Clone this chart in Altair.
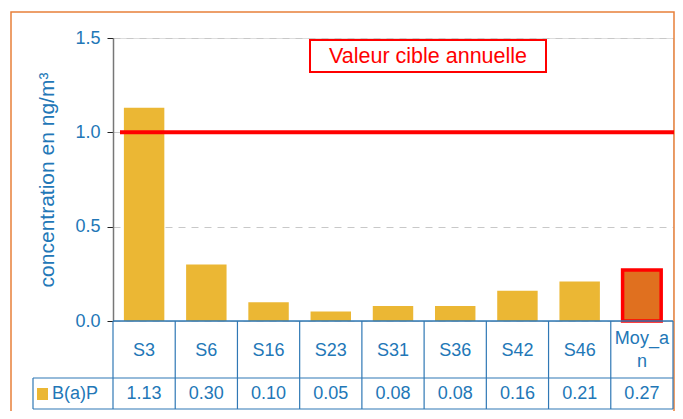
import altair as alt
import pandas as pd

categories = ["S3", "S6", "S16", "S23", "S31", "S36", "S42", "S46", "Moy_an"]
values = [1.13, 0.30, 0.10, 0.05, 0.08, 0.08, 0.16, 0.21, 0.27]
value_labels = ["1.13", "0.30", "0.10", "0.05", "0.08", "0.08", "0.16", "0.21", "0.27"]
cat_line1 = ["S3", "S6", "S16", "S23", "S31", "S36", "S42", "S46", "Moy_a"]
cat_line2 = ["", "", "", "", "", "", "", "", "n"]
series_name = "B(a)P"
target_value = [1.0]
annotation = ["Valeur cible annuelle"]
y_ticks = [0.0, 0.5, 1.0, 1.5]

BLUE = "#2277b7"
LINE = "#2f78b5"
GOLD = "#ebb734"
ORANGE = "#e0701f"
FONT = "Liberation Sans"

W, H = 560, 283

df = pd.DataFrame({"cat": categories, "val": values, "lab": value_labels,
                   "l1": cat_line1, "l2": cat_line2})
df["kind"] = ["site"] * 8 + ["moy"]

xscale = alt.Scale(domain=categories, paddingInner=0, paddingOuter=0)
X = alt.X("cat:N", scale=xscale, axis=None, sort=categories)
Y = alt.Y("val:Q", scale=alt.Scale(domain=[0, 1.5], nice=False),
          axis=alt.Axis(values=y_ticks, format=".1f", title="concentration en ng/m³",
                        titleColor=BLUE, titleFontSize=21, titleFont=FONT,
                        titleFontWeight="normal", titlePadding=17,
                        labelColor=BLUE, labelFontSize=18, labelFont=FONT,
                        labelPadding=7, tickSize=6, tickColor="#222",
                        domainColor="#777", domainWidth=1.5,
                        grid=True, gridDash=[7, 6], gridColor="#c8c8c8"))

base = alt.Chart(df)

bars = base.transform_filter("datum.kind == 'site'").mark_bar(
    width={"band": 0.65}, color=GOLD).encode(x=X, y=Y)
moy = base.transform_filter("datum.kind == 'moy'").mark_bar(
    width={"band": 0.62}, color=ORANGE, stroke="#ff0000", strokeWidth=3.5).encode(x=X, y="val:Q")

tdf = pd.DataFrame({"t": target_value})
target = alt.Chart(tdf).mark_rule(color="#ff0000", strokeWidth=4).encode(
    y=alt.Y("t:Q"), x=alt.value(7), x2=alt.value(561))

adf = pd.DataFrame({"a": annotation})
abox = alt.Chart(adf).mark_rect(fill="white", stroke="#ff0000", strokeWidth=2).encode(
    x=alt.value(197), x2=alt.value(433), y=alt.value(2), y2=alt.value(34))
atext = alt.Chart(adf).mark_text(color="#ff0000", fontSize=21.5, font=FONT,
                                 align="center", baseline="middle").encode(
    text="a:N", x=alt.value(315), y=alt.value(19))

# table
BOT = H + 88
vlines = base.mark_rule(color=LINE, strokeWidth=1.2).encode(
    x=alt.X("cat:N", scale=xscale, sort=categories, bandPosition=0),
    y=alt.value(H), y2=alt.value(BOT))
rdf = pd.DataFrame({"r": [0]})
right_line = alt.Chart(rdf).mark_rule(color=LINE, strokeWidth=1.2).encode(
    x=alt.value(W), y=alt.value(H), y2=alt.value(BOT))
left_line = alt.Chart(rdf).mark_rule(color=LINE, strokeWidth=1.2).encode(
    x=alt.value(-80), y=alt.value(H + 57), y2=alt.value(BOT))
h0 = alt.Chart(rdf).mark_rule(color=LINE, strokeWidth=1.5).encode(
    x=alt.value(0), x2=alt.value(W), y=alt.value(H))
h1 = alt.Chart(rdf).mark_rule(color=LINE, strokeWidth=1.2).encode(
    x=alt.value(-80), x2=alt.value(W), y=alt.value(H + 57))
h2 = alt.Chart(rdf).mark_rule(color=LINE, strokeWidth=1.2).encode(
    x=alt.value(-80), x2=alt.value(W), y=alt.value(BOT))

def txt(filt, field, ypix):
    c = base
    if filt:
        c = c.transform_filter(filt)
    return c.mark_text(color=BLUE, fontSize=18, font=FONT, baseline="middle").encode(
        x=alt.X("cat:N", scale=xscale, sort=categories), text=f"{field}:N",
        y=alt.value(ypix))

cat_text_sites = txt("datum.kind == 'site'", "l1", H + 30)
cat_text_moy1 = txt("datum.kind == 'moy'", "l1", H + 18)
cat_text_moy2 = txt("datum.kind == 'moy'", "l2", H + 41)
val_text = txt(None, "lab", H + 73)

sdf = pd.DataFrame({"s": [series_name]})
swatch = alt.Chart(sdf).mark_rect(color=GOLD).encode(
    x=alt.value(-76), x2=alt.value(-65), y=alt.value(H + 67), y2=alt.value(H + 79))
legend_text = alt.Chart(sdf).mark_text(color=BLUE, fontSize=18, font=FONT,
                                       align="left", baseline="middle").encode(
    text="s:N", x=alt.value(-61), y=alt.value(H + 73))

# outer orange frame
frame = alt.Chart(rdf).mark_rect(fill=None, stroke="#e8803a", strokeWidth=1.5).encode(
    x=alt.value(-102), x2=alt.value(561), y=alt.value(-26), y2=alt.value(H + 120))

chart = alt.layer(
    frame, bars, moy, target, abox, atext,
    h0, h1, h2, vlines, right_line, left_line,
    cat_text_sites, cat_text_moy1, cat_text_moy2, val_text, swatch, legend_text
).properties(
    width=W, height=H,
    autosize=alt.AutoSizeParams(type="none"),
    padding={"left": 105, "top": 30, "right": 2, "bottom": 90},
).configure_view(stroke=None).configure(background="white")

chart.save("out.html", embed_options={"renderer": "svg", "actions": False})
